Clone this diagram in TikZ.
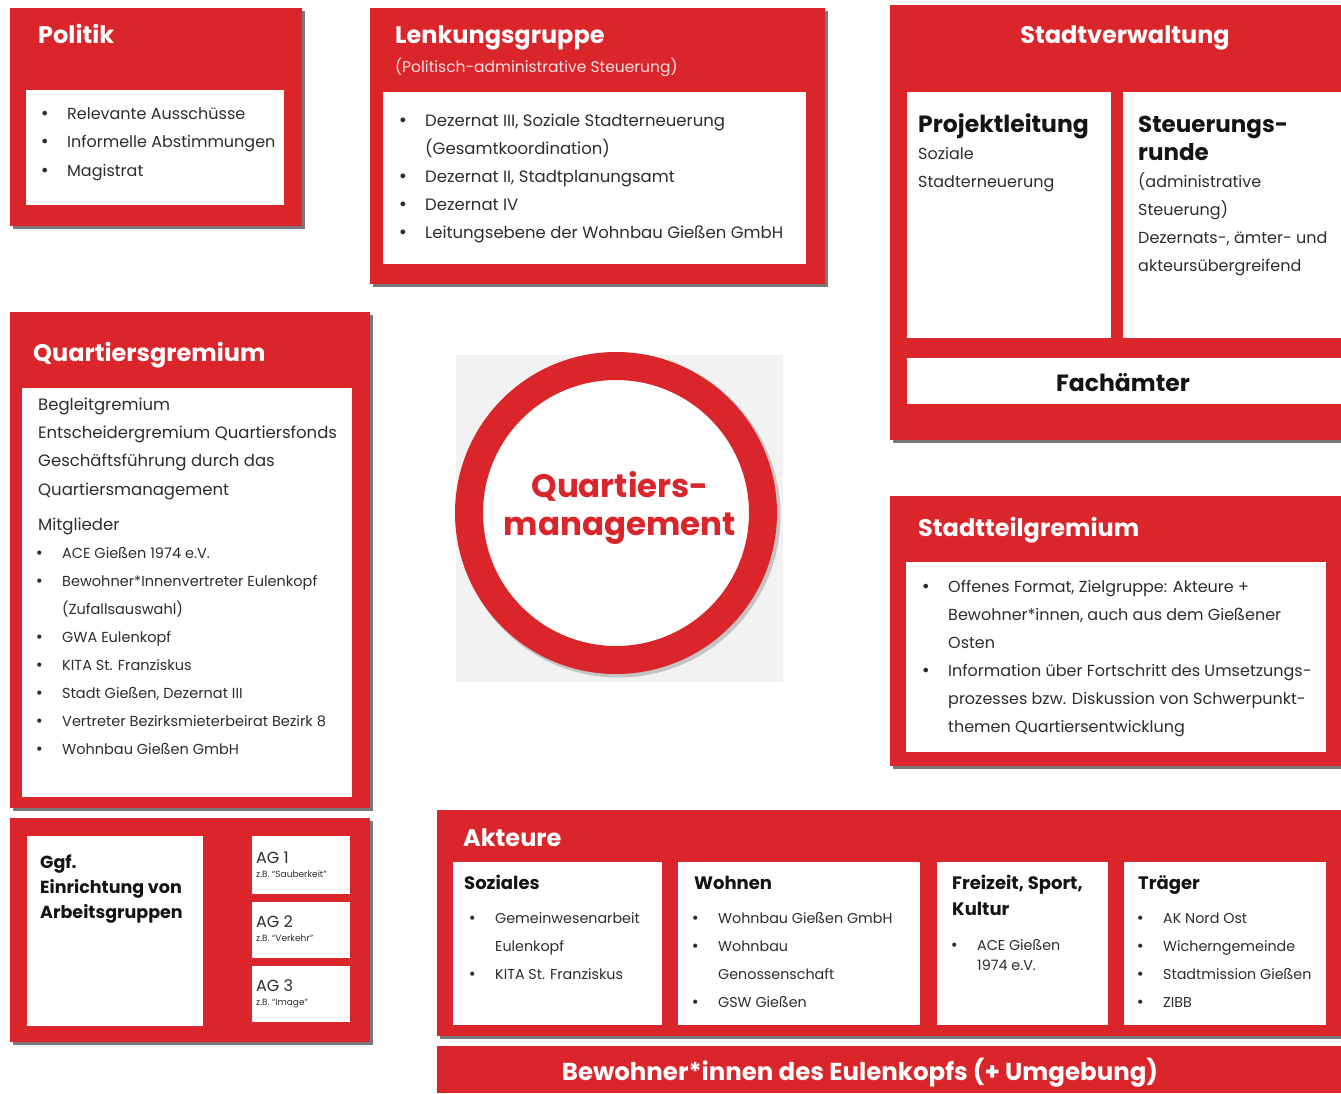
\documentclass[tikz,border=0pt]{standalone}
\usepackage{fontspec}
\setmainfont{Poppins}
\newfontfamily\dejavu{DejaVu Sans}
\usetikzlibrary{shadows}
\definecolor{qred}{RGB}{218,37,42}
\definecolor{qtext}{RGB}{45,45,45}
\definecolor{qdark}{RGB}{20,20,20}
\definecolor{qgray}{RGB}{242,242,242}
\newlength\bw
\setlength\bw{27pt}
\newcommand\bi[1]{\makebox[\bw][l]{{\dejavu\char"2022}}#1}
\newcommand\ci[1]{\hspace*{\bw}#1}
\newcommand\qfs[2]{\fontsize{#1}{#2}\selectfont}
\tikzset{
  redbox/.style={fill=qred, draw=none, anchor=north west, inner sep=0pt,
    drop shadow={shadow xshift=3pt, shadow yshift=-3pt, fill=black!75, opacity=0.7}},
  whitebox/.style={fill=white, draw=none, anchor=north west, inner sep=0pt},
  ttl/.style={text=white, font=\qfs{24}{28}\bfseries, anchor=base west, inner sep=0pt},
  txt/.style={text=qtext, anchor=north west, inner sep=0pt, align=left},
  hdr/.style={text=qdark, anchor=north west, inner sep=0pt, align=left},
  agt/.style={text=qtext, font=\qfs{16}{18}, anchor=base west, inner sep=0pt},
  ags/.style={text=qtext, font=\qfs{9}{10}, anchor=base west, inner sep=0pt},
}
\begin{document}
\begin{tikzpicture}[x=1pt,y=-1pt]
\useasboundingbox (0,0) rectangle (1341,1093);
\fill[white] (0,0) rectangle (1341,1093);

% ---------- Politik
\node[redbox, minimum width=292pt, minimum height=218pt] (politik) at (10,8) {};
\node[ttl] (politikT) at (38,43) {Politik};
\node[whitebox, minimum width=258pt, minimum height=115pt] (politikW) at (26,90) {};
\node[txt, font=\qfs{16}{28.5}] (politikL) at (40,99)
  {\strut\bi{Relevante Ausschüsse}\\\bi{Informelle Abstimmungen}\\\bi{Magistrat}};

% ---------- Lenkungsgruppe
\node[redbox, minimum width=455pt, minimum height=276pt] (lenk) at (370,8) {};
\node[ttl] (lenkT) at (395,43) {Lenkungsgruppe};
\node[text=white!85!qred, font=\qfs{15.5}{18}, anchor=base west, inner sep=0pt] (lenkS) at (395,72)
  {(Politisch-administrative Steuerung)};
\node[whitebox, minimum width=423pt, minimum height=172pt] (lenkW) at (383,92) {};
\node[txt, font=\qfs{16.5}{28}] (lenkL) at (398,106.4)
  {\strut\bi{Dezernat III, Soziale Stadterneuerung}\\\ci{(Gesamtkoordination)}\\
   \bi{Dezernat II, Stadtplanungsamt}\\\bi{Dezernat IV}\\
   \bi{Leitungsebene der Wohnbau Gießen GmbH}};

% ---------- Stadtverwaltung
\node[redbox, minimum width=451pt, minimum height=435pt] (stadt) at (890,5) {};
\node[ttl, anchor=base] (stadtT) at (1125,43) {Stadtverwaltung};
\node[whitebox, minimum width=204pt, minimum height=246pt] (plW) at (907,92) {};
\node[whitebox, minimum width=218pt, minimum height=246pt] (srW) at (1123,92) {};
\node[whitebox, minimum width=434pt, minimum height=46pt] (faW) at (907,358) {};
\node[hdr, font=\qfs{23.5}{28}\bfseries] (plT) at (918,112.4) {\strut Projektleitung};
\node[txt, font=\qfs{16}{28}] (plL) at (918,139.4) {\strut Soziale\\Stadterneuerung};
\node[hdr, font=\qfs{23}{28}\bfseries] (srT) at (1138,112.4) {\strut Steuerungs-\\runde};
\node[txt, font=\qfs{16}{28}] (srL) at (1138,167.4)
  {\strut(administrative\\Steuerung)\\Dezernats-, ämter- und\\akteursübergreifend};
\node[text=qdark, font=\qfs{23.5}{28}\bfseries, anchor=base, inner sep=0pt] (faT) at (1123,391) {Fachämter};

% ---------- Quartiersgremium
\node[redbox, minimum width=360pt, minimum height=496pt] (qg) at (10,312) {};
\node[ttl] (qgT) at (33,361) {Quartiersgremium};
\node[whitebox, minimum width=330pt, minimum height=409pt] (qgW) at (22,388) {};
\node[txt, font=\qfs{16.5}{28.3}] (qgA) at (38,390.2)
  {\strut Begleitgremium\\Entscheidergremium Quartiersfonds\\Geschäftsführung durch das\\Quartiersmanagement};
\node[txt, font=\qfs{16.5}{28}] (qgM) at (38,510.4) {\strut Mitglieder};
\node[txt, font=\qfs{14.5}{28}] (qgL) at (35,538.4)
  {\strut\bi{ACE Gießen 1974 e.V.}\\\bi{Bewohner*Innenvertreter Eulenkopf}\\\ci{(Zufallsauswahl)}\\
   \bi{GWA Eulenkopf}\\\bi{KITA St. Franziskus}\\\bi{Stadt Gießen, Dezernat III}\\
   \bi{Vertreter Bezirksmieterbeirat Bezirk 8}\\\bi{Wohnbau Gießen GmbH}};

% ---------- Arbeitsgruppen
\node[redbox, minimum width=360pt, minimum height=224pt] (ag) at (10,818) {};
\node[whitebox, minimum width=176pt, minimum height=190pt] (agW) at (27,836) {};
\node[hdr, font=\qfs{17.5}{25}\bfseries] (agT) at (40,850.5) {\strut Ggf.\\Einrichtung von\\Arbeitsgruppen};
\node[whitebox, minimum width=98pt, minimum height=58pt] (ag1) at (252,836) {};
\node[whitebox, minimum width=98pt, minimum height=56pt] (ag2) at (252,902) {};
\node[whitebox, minimum width=98pt, minimum height=56pt] (ag3) at (252,966) {};
\node[agt] (ag1T) at (256,863) {AG 1};
\node[ags] (ag1S) at (256,877) {z.B. “Sauberkeit”};
\node[agt] (ag2T) at (256,927) {AG 2};
\node[ags] (ag2S) at (256,941) {z.B. “Verkehr”};
\node[agt] (ag3T) at (256,991) {AG 3};
\node[ags] (ag3S) at (256,1005) {z.B. “Image”};

% ---------- Quartiersmanagement
\node[fill=qgray, draw=none, anchor=north west, inner sep=0pt, minimum width=327pt, minimum height=327pt] (qmbg) at (456,355) {};
\node[circle, fill=black!45, opacity=0.45, inner sep=0pt, minimum size=324pt] (qmsh) at (618.5,515.5) {};
\node[circle, draw=qred, line width=28pt, fill=white, inner sep=0pt, minimum size=294pt] (qmring) at (616,513) {};
\node[text=qred, font=\qfs{32.5}{38}\bfseries, align=center, anchor=north, inner sep=0pt] (qmT) at (620,470.4)
  {\strut Quartiers-\\management};

% ---------- Stadtteilgremium
\node[redbox, minimum width=451pt, minimum height=270pt] (stg) at (890,496) {};
\node[ttl] (stgT) at (918,536) {Stadtteilgremium};
\node[whitebox, minimum width=420pt, minimum height=190pt] (stgW) at (906,562) {};
\node[txt, font=\qfs{16}{28}] (stgL) at (921,572.4)
  {\strut\bi{Offenes Format, Zielgruppe: Akteure +}\\\ci{Bewohner*innen, auch aus dem Gießener}\\\ci{Osten}\\
   \bi{Information über Fortschritt des Umsetzungs-}\\\ci{prozesses bzw. Diskussion von Schwerpunkt-}\\\ci{themen Quartiersentwicklung}};

% ---------- Akteure
\node[redbox, minimum width=904pt, minimum height=226pt] (akt) at (437,810) {};
\node[ttl] (aktT) at (463,846) {Akteure};
\node[whitebox, minimum width=209pt, minimum height=163pt] (soW) at (453,862) {};
\node[whitebox, minimum width=242pt, minimum height=163pt] (woW) at (678,862) {};
\node[whitebox, minimum width=171pt, minimum height=163pt] (frW) at (937,862) {};
\node[whitebox, minimum width=202pt, minimum height=163pt] (trW) at (1124,862) {};
\node[hdr, font=\qfs{18}{26}\bfseries] (soT) at (464,870.8) {\strut Soziales};
\node[hdr, font=\qfs{18}{26}\bfseries] (woT) at (694,870.8) {\strut Wohnen};
\node[hdr, font=\qfs{18}{26}\bfseries] (frT) at (952,870.8) {\strut Freizeit, Sport,\\Kultur};
\node[hdr, font=\qfs{18}{26}\bfseries] (trT) at (1138,870.8) {\strut Träger};
\node[txt, font=\qfs{14.3}{28}] (soL) at (468,903.4)
  {\strut\bi{Gemeinwesenarbeit}\\\ci{Eulenkopf}\\\bi{KITA St. Franziskus}};
\node[txt, font=\qfs{14.3}{28}] (woL) at (691,903.4)
  {\strut\bi{Wohnbau Gießen GmbH}\\\bi{Wohnbau}\\\ci{Genossenschaft}\\\bi{GSW Gießen}};
\node[txt, font=\qfs{14.3}{20}] (frL) at (950,936)
  {\strut\bi{ACE Gießen}\\\ci{1974 e.V.}};
\node[txt, font=\qfs{14.3}{28}] (trL) at (1136,903.4)
  {\strut\bi{AK Nord Ost}\\\bi{Wicherngemeinde}\\\bi{Stadtmission Gießen}\\\bi{ZIBB}};

% ---------- Bewohner
\node[fill=qred, draw=none, anchor=north west, inner sep=0pt, minimum width=904pt, minimum height=47pt] (bew) at (437,1046) {};
\node[text=white, font=\qfs{24.5}{28}\bfseries, anchor=base, inner sep=0pt] (bewT) at (860,1080)
  {Bewohner*innen des Eulenkopfs (+ Umgebung)};
\end{tikzpicture}
\end{document}
